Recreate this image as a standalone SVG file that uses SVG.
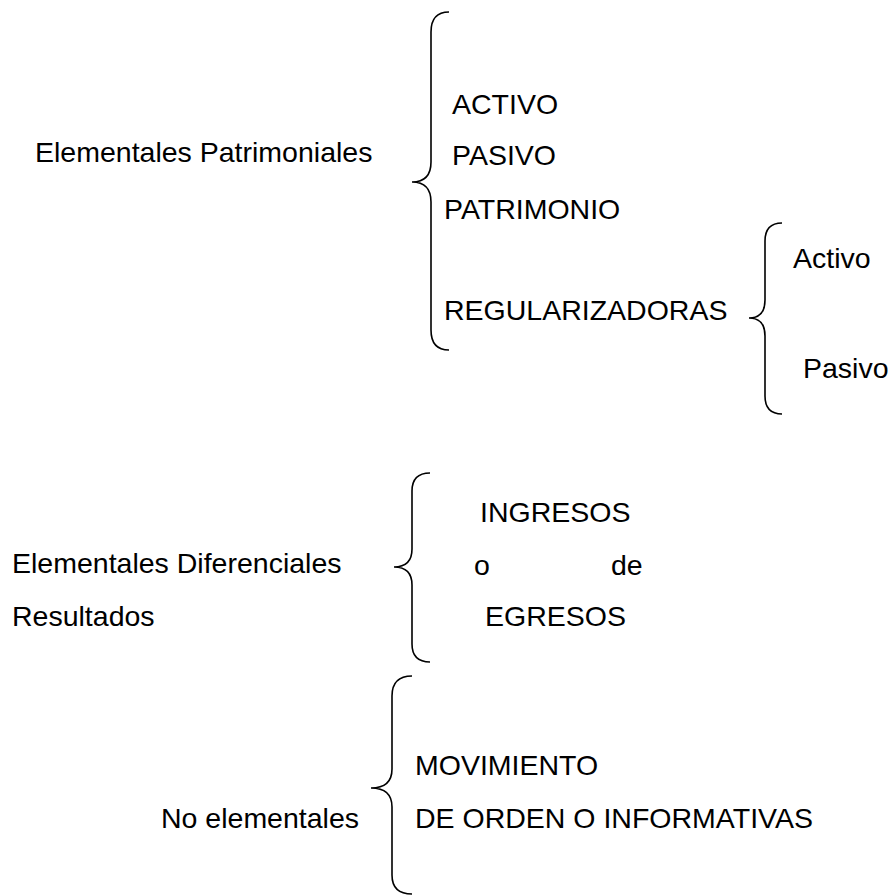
<svg xmlns="http://www.w3.org/2000/svg" width="890" height="896" viewBox="0 0 890 896">
<style>
text{font-family:"Liberation Sans",Arial,sans-serif;font-size:28.5px;fill:#000}
.brace{fill:none;stroke:#000;stroke-width:1.6}
</style>
<rect width="890" height="896" fill="#fff"/>
<g id="connectors">
<path class="brace" d="M449,12 Q431,12 431,32 L431,162 Q431,182 412,182 Q431,182 431,202 L431,330 Q431,350 449,350"/>
<path class="brace" d="M782,223 Q765,223 765,241 L765,300 Q765,318 749,318 Q765,318 765,336 L765,396 Q765,414 782,414"/>
<path class="brace" d="M430,473 Q412,473 412,491 L412,549 Q412,567 394,567 Q412,567 412,585 L412,644 Q412,662 430,662"/>
<path class="brace" d="M412,676 Q392,676 392,696 L392,769 Q392,788 371,788 Q392,788 392,807 L392,875 Q392,894 412,894"/>
</g>
<g id="n-patrimoniales"><text x="35" y="162">Elementales Patrimoniales</text></g>
<g id="n-activo"><text x="452" y="114">ACTIVO</text></g>
<g id="n-pasivo"><text x="452" y="165">PASIVO</text></g>
<g id="n-patrimonio"><text x="444" y="219">PATRIMONIO</text></g>
<g id="n-regularizadoras"><text x="444" y="320">REGULARIZADORAS</text></g>
<g id="n-reg-activo"><text x="793" y="268">Activo</text></g>
<g id="n-reg-pasivo"><text x="803" y="378">Pasivo</text></g>
<g id="n-diferenciales"><text x="12" y="573">Elementales Diferenciales</text><text x="12" y="626">Resultados</text></g>
<g id="n-ingresos"><text x="480" y="522">INGRESOS</text></g>
<g id="n-o-de"><text x="474" y="575">o</text><text x="611" y="575">de</text></g>
<g id="n-egresos"><text x="485" y="626">EGRESOS</text></g>
<g id="n-no-elementales"><text x="161" y="828">No elementales</text></g>
<g id="n-movimiento"><text x="415" y="775">MOVIMIENTO</text></g>
<g id="n-de-orden"><text x="415" y="828">DE ORDEN O INFORMATIVAS</text></g>
</svg>
